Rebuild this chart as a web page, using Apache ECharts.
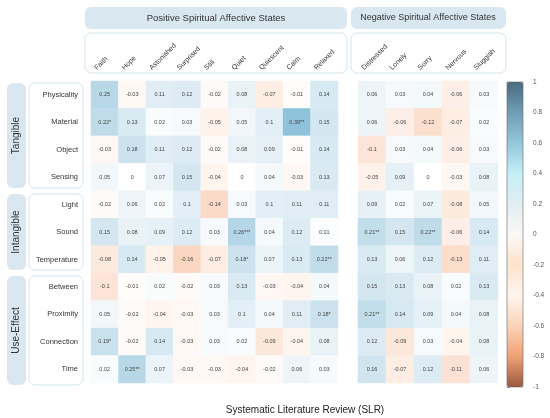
<!DOCTYPE html>
<html>
<head>
<meta charset="utf-8">
<script src="https://cdn.jsdelivr.net/npm/echarts@6/dist/echarts.min.js"></script>
<style>html,body{margin:0;padding:0;background:#fff}#c{width:550px;height:418px}</style>
</head>
<body>
<div id="c"></div>
<script>
const rows = ['Physicality','Material','Object','Sensing','Light','Sound','Temperature','Between','Proximity','Connection','Time'];
const posCols = ['Faith','Hope','Astonished','Surprised','Still','Quiet','Quiescent','Calm','Relaxed'];
const negCols = ['Distressed','Lonely','Sorry','Nervous','Sluggish'];
const groups = ['Tangible','Intangible','Use-Effect'];
const posValues = [
  [0.25,-0.03,0.11,0.12,-0.02,0.08,-0.07,-0.01,0.14],
  [0.22,0.13,0.02,0.03,-0.05,0.05,0.1,0.39,0.15],
  [-0.03,0.18,0.11,0.12,-0.02,0.08,0.09,-0.01,0.14],
  [0.05,0,0.07,0.15,-0.04,0,0.04,-0.03,0.13],
  [-0.02,0.06,0.02,0.1,-0.14,0.03,0.1,0.11,0.11],
  [0.15,0.08,0.09,0.12,0.03,0.26,0.04,0.12,0.01],
  [-0.08,0.14,-0.05,-0.16,-0.07,0.18,0.07,0.13,0.22],
  [-0.1,-0.01,0.02,-0.02,0.03,0.13,-0.03,-0.04,0.04],
  [0.05,-0.02,-0.04,-0.03,0.03,0.1,0.04,0.11,0.18],
  [0.19,-0.02,0.14,-0.03,0.03,0.02,-0.09,-0.04,0.08],
  [0.02,0.25,0.07,-0.03,-0.03,-0.04,-0.02,0.06,0.03]
];
const posSig = [
  ['','','','','','','','',''],
  ['*','','','','','','','**',''],
  ['','','','','','','','',''],
  ['','','','','','','','',''],
  ['','','','','','','','',''],
  ['','','','','','***','','',''],
  ['','','','','','*','','','**'],
  ['','','','','','','','',''],
  ['','','','','','','','','*'],
  ['*','','','','','','','',''],
  ['','**','','','','','','','']
];
const negValues = [
  [0.06,0.03,0.04,-0.06,0.03],
  [0.06,-0.06,-0.12,-0.07,0.02],
  [-0.1,0.03,0.04,-0.06,0.03],
  [-0.05,0.09,0,-0.03,0.08],
  [0.09,0.02,0.07,-0.08,0.05],
  [0.21,0.15,0.22,-0.06,0.14],
  [0.13,0.06,0.12,-0.13,0.11],
  [0.15,0.13,0.08,0.02,0.13],
  [0.21,0.14,0.09,0.04,0.08],
  [0.12,-0.09,0.03,-0.04,0.08],
  [0.16,-0.07,0.12,-0.11,0.06]
];
const negSig = [
  ['','','','',''],['','','','',''],['','','','',''],['','','','',''],['','','','',''],
  ['**','','**','',''],['','','','',''],['','','','',''],['**','','','',''],['','','','',''],['','','','','']
];
const cellColors = ['#a0583a','#d0825c','#e9a07c','#f4b897','#f9cbb0','#ffffff','#c6dfec','#8cc2da','#78aac2','#6290a8','#4c6b80'];
const barColors = ['#9a5a40','#f0a075','#fbd3b8','#fff5ee','#fde3cc','#fbf8f5','#e1eef2','#c4eef7','#94c7da','#6f9db5','#4c6b80'];

const FONT = 'Liberation Sans, Arial, sans-serif';
function toData(vals, sig){
  const d=[];
  vals.forEach((r,ri)=>r.forEach((v,ci)=>d.push({value:[ci,ri,v], sig:sig[ri][ci]})));
  return d;
}
const GT=81, GH=302, SHIFT=9;
const chart = echarts.init(document.getElementById('c'), null, {renderer:'canvas'});
const labelStyle = {show:true, fontSize:5.5, color:'#444', fontFamily:FONT,
  formatter:p=>String(p.value[2])+(p.data.sig||'')};
const colAxis = (cols, gi, show) => ({type:'category', gridIndex:gi, data:cols, position:'top',
  axisLine:{show:false}, axisTick:{show:false}, splitLine:{show:false},
  axisLabel:{show:show, rotate:-45, margin:12, fontSize:7, color:'#333', fontFamily:FONT, interval:0}});
const rowAxis = (gi, show) => ({type:'category', gridIndex:gi, data:rows, inverse:true,
  axisLine:{show:false}, axisTick:{show:false}, splitLine:{show:false},
  axisLabel:{show:show, margin:13, fontSize:7.5, color:'#333', fontFamily:FONT, interval:0}});

function rrect(x,y,w,h,fill,stroke){
  return {type:'rect', shape:{x:x,y:y,width:w,height:h,r:6}, style:{fill:fill, stroke:stroke||null, lineWidth:stroke?1:0}, z:-1, silent:true};
}
function gtext(x,y,t,size,rot){
  return {type:'text', x:x, y:y, rotation:rot||0, style:{text:t, fontSize:size, fill:'#333', fontFamily:FONT, align:'center', verticalAlign:'middle'}, silent:true};
}
const HB='#d9e8f0', BS='#d3e5ee';
const graphics = [
  rrect(85,7,262,22,HB), rrect(351,7,155,22,HB),
  rrect(85,33,262,40,'#fff',BS), rrect(351,33,155,40,'#fff',BS),
  gtext(216,18,'Positive Spiritual Affective States',9.5),
  gtext(428,18,'Negative Spiritual Affective States',9),
  rrect(7,83,19,105,HB), rrect(29,83,54,105,'#fff',BS),
  rrect(7,194,19,76,HB), rrect(29,194,54,76,'#fff',BS),
  rrect(7,276,19,109,HB), rrect(29,276,54,109,'#fff',BS),
  gtext(16.5,135.5,groups[0],10,Math.PI/2),
  gtext(16.5,232,groups[1],10,Math.PI/2),
  gtext(16.5,330.5,groups[2],10,Math.PI/2)
];

chart.setOption({
  animation:false,
  backgroundColor:'#fff',
  title:{text:'Systematic Literature Review (SLR)', left:300, top:400, textAlign:'center',
    textStyle:{fontSize:10, fontWeight:'normal', color:'#222', fontFamily:FONT}},
  grid:[
    {left:91, top:GT, width:247, height:GH},
    {left:358, top:GT, width:140, height:GH},
    {left:507, top:82, width:16, height:305, show:true, borderColor:'#666', borderWidth:0.6, backgroundColor:'transparent', z:10},
    {left:91-SHIFT, top:GT, width:247, height:GH},
    {left:358-SHIFT, top:GT, width:140, height:GH}
  ],
  xAxis:[colAxis(posCols,0,false), colAxis(negCols,1,false), {type:'value', gridIndex:2, show:false},
    colAxis(posCols,3,true), colAxis(negCols,4,true)],
  yAxis:[rowAxis(0,true), rowAxis(1,false),
    {type:'value', gridIndex:2, min:-1, max:1, interval:0.2, position:'right',
     axisLine:{show:false}, splitLine:{show:false},
     axisTick:{show:true, length:3, lineStyle:{color:'#555', width:0.6}},
     axisLabel:{margin:10, fontSize:6.5, color:'#555', fontFamily:FONT,
       formatter:v=>String(Math.round(v*10)/10)}},
    rowAxis(3,false), rowAxis(4,false)],
  visualMap:[
    {type:'continuous', min:-1, max:1, seriesIndex:[0,1], show:false, inRange:{color:cellColors}},
    {type:'continuous', min:-1, max:1, seriesIndex:2, show:true, left:507, top:82, itemWidth:16, itemHeight:305,
     padding:0, text:null, showLabel:false, calculable:false, hoverLink:false, inRange:{color:barColors}}
  ],
  series:[
    {type:'heatmap', xAxisIndex:0, yAxisIndex:0, data:toData(posValues,posSig), label:labelStyle, itemStyle:{borderWidth:0}},
    {type:'heatmap', xAxisIndex:1, yAxisIndex:1, data:toData(negValues,negSig), label:labelStyle, itemStyle:{borderWidth:0}},
    {type:'scatter', xAxisIndex:2, yAxisIndex:2, data:[]}
  ],
  graphic:graphics
});
</script>
</body>
</html>
